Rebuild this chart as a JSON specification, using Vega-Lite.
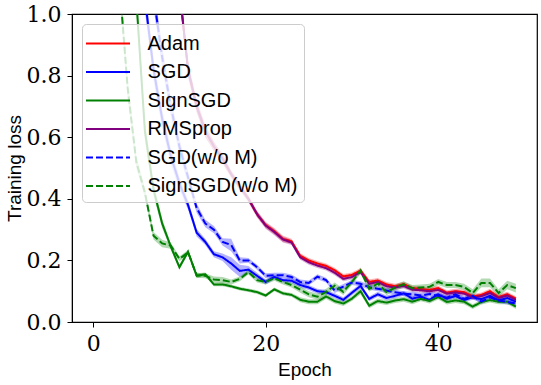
{
  "$schema": "https://vega.github.io/schema/vega-lite/v6.json",
  "width": 465,
  "height": 308,
  "autosize": {"type": "none"},
  "padding": {"left": 72, "top": 14, "right": 4, "bottom": 63},
  "background": "white",
  "config": {
    "font": "Liberation Sans",
    "view": {"stroke": "black", "strokeWidth": 1.2},
    "axis": {
      "grid": false,
      "domainColor": "black",
      "tickColor": "black",
      "tickSize": 5,
      "labelColor": "black",
      "titleFontWeight": "normal",
      "titleColor": "black"
    },
    "legend": {
      "orient": "top-left",
      "offset": 10,
      "padding": 6,
      "fillColor": "rgba(255,255,255,0.8)",
      "strokeColor": "#cccccc",
      "cornerRadius": 4,
      "labelFont": "Liberation Sans",
      "labelFontSize": 20,
      "labelColor": "black",
      "symbolType": "M-1.76,0H1.76",
      "symbolSize": 625,
      "symbolStrokeWidth": 2,
      "symbolOpacity": 1,
      "symbolOffset": 6.5,
      "labelOffset": 26,
      "rowPadding": 4.5
    }
  },
  "data": {"values": [
    {"s":"Adam","e":10,"y":1.08,"sd":0.03},{"s":"Adam","e":11,"y":0.82,"sd":0.025},{"s":"Adam","e":12,"y":0.70,"sd":0.02},{"s":"Adam","e":13,"y":0.62,"sd":0.02},{"s":"Adam","e":14,"y":0.57,"sd":0.015},{"s":"Adam","e":15,"y":0.53,"sd":0.015},{"s":"Adam","e":16,"y":0.48,"sd":0.012},{"s":"Adam","e":17,"y":0.44,"sd":0.012},{"s":"Adam","e":18,"y":0.40,"sd":0.01},{"s":"Adam","e":19,"y":0.35,"sd":0.01},{"s":"Adam","e":20,"y":0.315,"sd":0.01},{"s":"Adam","e":21,"y":0.295,"sd":0.01},{"s":"Adam","e":22,"y":0.27,"sd":0.01},{"s":"Adam","e":23,"y":0.262,"sd":0.008},{"s":"Adam","e":24,"y":0.215,"sd":0.008},{"s":"Adam","e":25,"y":0.20,"sd":0.008},{"s":"Adam","e":26,"y":0.19,"sd":0.008},{"s":"Adam","e":27,"y":0.182,"sd":0.008},{"s":"Adam","e":28,"y":0.168,"sd":0.008},{"s":"Adam","e":29,"y":0.148,"sd":0.008},{"s":"Adam","e":30,"y":0.153,"sd":0.008},{"s":"Adam","e":31,"y":0.167,"sd":0.008},{"s":"Adam","e":32,"y":0.13,"sd":0.008},{"s":"Adam","e":33,"y":0.135,"sd":0.008},{"s":"Adam","e":34,"y":0.122,"sd":0.008},{"s":"Adam","e":35,"y":0.116,"sd":0.008},{"s":"Adam","e":36,"y":0.123,"sd":0.008},{"s":"Adam","e":37,"y":0.11,"sd":0.008},{"s":"Adam","e":38,"y":0.107,"sd":0.008},{"s":"Adam","e":39,"y":0.104,"sd":0.008},{"s":"Adam","e":40,"y":0.11,"sd":0.008},{"s":"Adam","e":41,"y":0.095,"sd":0.008},{"s":"Adam","e":42,"y":0.10,"sd":0.008},{"s":"Adam","e":43,"y":0.097,"sd":0.008},{"s":"Adam","e":44,"y":0.083,"sd":0.008},{"s":"Adam","e":45,"y":0.088,"sd":0.008},{"s":"Adam","e":46,"y":0.10,"sd":0.008},{"s":"Adam","e":47,"y":0.081,"sd":0.008},{"s":"Adam","e":48,"y":0.09,"sd":0.008},{"s":"Adam","e":49,"y":0.076,"sd":0.008},

    {"s":"SGD","e":6,"y":1.05,"sd":0.04},{"s":"SGD","e":7,"y":0.82,"sd":0.035},{"s":"SGD","e":8,"y":0.66,"sd":0.03},{"s":"SGD","e":9,"y":0.54,"sd":0.025},{"s":"SGD","e":10,"y":0.45,"sd":0.02},{"s":"SGD","e":11,"y":0.38,"sd":0.015},{"s":"SGD","e":12,"y":0.29,"sd":0.012},{"s":"SGD","e":13,"y":0.26,"sd":0.01},{"s":"SGD","e":14,"y":0.22,"sd":0.01},{"s":"SGD","e":15,"y":0.21,"sd":0.012},{"s":"SGD","e":16,"y":0.19,"sd":0.02},{"s":"SGD","e":17,"y":0.166,"sd":0.02},{"s":"SGD","e":18,"y":0.17,"sd":0.012},{"s":"SGD","e":19,"y":0.15,"sd":0.01},{"s":"SGD","e":20,"y":0.13,"sd":0.008},{"s":"SGD","e":21,"y":0.146,"sd":0.008},{"s":"SGD","e":22,"y":0.136,"sd":0.008},{"s":"SGD","e":23,"y":0.134,"sd":0.008},{"s":"SGD","e":24,"y":0.12,"sd":0.008},{"s":"SGD","e":25,"y":0.112,"sd":0.008},{"s":"SGD","e":26,"y":0.10,"sd":0.008},{"s":"SGD","e":27,"y":0.097,"sd":0.008},{"s":"SGD","e":28,"y":0.085,"sd":0.008},{"s":"SGD","e":29,"y":0.072,"sd":0.008},{"s":"SGD","e":30,"y":0.095,"sd":0.008},{"s":"SGD","e":31,"y":0.117,"sd":0.008},{"s":"SGD","e":32,"y":0.075,"sd":0.008},{"s":"SGD","e":33,"y":0.09,"sd":0.008},{"s":"SGD","e":34,"y":0.078,"sd":0.008},{"s":"SGD","e":35,"y":0.085,"sd":0.008},{"s":"SGD","e":36,"y":0.093,"sd":0.008},{"s":"SGD","e":37,"y":0.076,"sd":0.008},{"s":"SGD","e":38,"y":0.082,"sd":0.008},{"s":"SGD","e":39,"y":0.072,"sd":0.008},{"s":"SGD","e":40,"y":0.09,"sd":0.008},{"s":"SGD","e":41,"y":0.076,"sd":0.008},{"s":"SGD","e":42,"y":0.084,"sd":0.008},{"s":"SGD","e":43,"y":0.072,"sd":0.008},{"s":"SGD","e":44,"y":0.08,"sd":0.008},{"s":"SGD","e":45,"y":0.074,"sd":0.008},{"s":"SGD","e":46,"y":0.085,"sd":0.008},{"s":"SGD","e":47,"y":0.07,"sd":0.008},{"s":"SGD","e":48,"y":0.078,"sd":0.008},{"s":"SGD","e":49,"y":0.066,"sd":0.008},

    {"s":"SignSGD","e":5,"y":1.05,"sd":0.04},{"s":"SignSGD","e":6,"y":0.62,"sd":0.03},{"s":"SignSGD","e":7,"y":0.43,"sd":0.02},{"s":"SignSGD","e":8,"y":0.32,"sd":0.015},{"s":"SignSGD","e":9,"y":0.245,"sd":0.01},{"s":"SignSGD","e":10,"y":0.178,"sd":0.008},{"s":"SignSGD","e":11,"y":0.228,"sd":0.008},{"s":"SignSGD","e":12,"y":0.15,"sd":0.008},{"s":"SignSGD","e":13,"y":0.155,"sd":0.006},{"s":"SignSGD","e":14,"y":0.122,"sd":0.006},{"s":"SignSGD","e":15,"y":0.122,"sd":0.006},{"s":"SignSGD","e":16,"y":0.116,"sd":0.006},{"s":"SignSGD","e":17,"y":0.108,"sd":0.006},{"s":"SignSGD","e":18,"y":0.103,"sd":0.006},{"s":"SignSGD","e":19,"y":0.097,"sd":0.006},{"s":"SignSGD","e":20,"y":0.086,"sd":0.006},{"s":"SignSGD","e":21,"y":0.106,"sd":0.006},{"s":"SignSGD","e":22,"y":0.093,"sd":0.006},{"s":"SignSGD","e":23,"y":0.088,"sd":0.006},{"s":"SignSGD","e":24,"y":0.072,"sd":0.008},{"s":"SignSGD","e":25,"y":0.066,"sd":0.008},{"s":"SignSGD","e":26,"y":0.066,"sd":0.008},{"s":"SignSGD","e":27,"y":0.083,"sd":0.008},{"s":"SignSGD","e":28,"y":0.068,"sd":0.008},{"s":"SignSGD","e":29,"y":0.06,"sd":0.008},{"s":"SignSGD","e":30,"y":0.076,"sd":0.008},{"s":"SignSGD","e":31,"y":0.10,"sd":0.01},{"s":"SignSGD","e":32,"y":0.053,"sd":0.008},{"s":"SignSGD","e":33,"y":0.068,"sd":0.008},{"s":"SignSGD","e":34,"y":0.063,"sd":0.008},{"s":"SignSGD","e":35,"y":0.07,"sd":0.008},{"s":"SignSGD","e":36,"y":0.074,"sd":0.008},{"s":"SignSGD","e":37,"y":0.066,"sd":0.008},{"s":"SignSGD","e":38,"y":0.075,"sd":0.008},{"s":"SignSGD","e":39,"y":0.068,"sd":0.008},{"s":"SignSGD","e":40,"y":0.081,"sd":0.008},{"s":"SignSGD","e":41,"y":0.065,"sd":0.008},{"s":"SignSGD","e":42,"y":0.07,"sd":0.008},{"s":"SignSGD","e":43,"y":0.066,"sd":0.008},{"s":"SignSGD","e":44,"y":0.05,"sd":0.008},{"s":"SignSGD","e":45,"y":0.065,"sd":0.008},{"s":"SignSGD","e":46,"y":0.071,"sd":0.008},{"s":"SignSGD","e":47,"y":0.066,"sd":0.008},{"s":"SignSGD","e":48,"y":0.066,"sd":0.008},{"s":"SignSGD","e":49,"y":0.05,"sd":0.008},

    {"s":"RMSprop","e":10,"y":1.08,"sd":0.03},{"s":"RMSprop","e":11,"y":0.82,"sd":0.025},{"s":"RMSprop","e":12,"y":0.70,"sd":0.02},{"s":"RMSprop","e":13,"y":0.62,"sd":0.02},{"s":"RMSprop","e":14,"y":0.57,"sd":0.015},{"s":"RMSprop","e":15,"y":0.53,"sd":0.015},{"s":"RMSprop","e":16,"y":0.48,"sd":0.012},{"s":"RMSprop","e":17,"y":0.44,"sd":0.012},{"s":"RMSprop","e":18,"y":0.40,"sd":0.01},{"s":"RMSprop","e":19,"y":0.35,"sd":0.01},{"s":"RMSprop","e":20,"y":0.313,"sd":0.01},{"s":"RMSprop","e":21,"y":0.292,"sd":0.01},{"s":"RMSprop","e":22,"y":0.268,"sd":0.01},{"s":"RMSprop","e":23,"y":0.258,"sd":0.008},{"s":"RMSprop","e":24,"y":0.21,"sd":0.008},{"s":"RMSprop","e":25,"y":0.194,"sd":0.008},{"s":"RMSprop","e":26,"y":0.183,"sd":0.008},{"s":"RMSprop","e":27,"y":0.175,"sd":0.008},{"s":"RMSprop","e":28,"y":0.16,"sd":0.008},{"s":"RMSprop","e":29,"y":0.14,"sd":0.008},{"s":"RMSprop","e":30,"y":0.146,"sd":0.008},{"s":"RMSprop","e":31,"y":0.162,"sd":0.008},{"s":"RMSprop","e":32,"y":0.124,"sd":0.008},{"s":"RMSprop","e":33,"y":0.13,"sd":0.008},{"s":"RMSprop","e":34,"y":0.116,"sd":0.008},{"s":"RMSprop","e":35,"y":0.112,"sd":0.008},{"s":"RMSprop","e":36,"y":0.117,"sd":0.008},{"s":"RMSprop","e":37,"y":0.105,"sd":0.008},{"s":"RMSprop","e":38,"y":0.103,"sd":0.008},{"s":"RMSprop","e":39,"y":0.1,"sd":0.008},{"s":"RMSprop","e":40,"y":0.104,"sd":0.008},{"s":"RMSprop","e":41,"y":0.092,"sd":0.008},{"s":"RMSprop","e":42,"y":0.096,"sd":0.008},{"s":"RMSprop","e":43,"y":0.092,"sd":0.008},{"s":"RMSprop","e":44,"y":0.08,"sd":0.008},{"s":"RMSprop","e":45,"y":0.084,"sd":0.008},{"s":"RMSprop","e":46,"y":0.094,"sd":0.008},{"s":"RMSprop","e":47,"y":0.078,"sd":0.008},{"s":"RMSprop","e":48,"y":0.086,"sd":0.008},{"s":"RMSprop","e":49,"y":0.072,"sd":0.008},

    {"s":"SGD(w/o M)","e":7,"y":1.06,"sd":0.04},{"s":"SGD(w/o M)","e":8,"y":0.86,"sd":0.035},{"s":"SGD(w/o M)","e":9,"y":0.70,"sd":0.03},{"s":"SGD(w/o M)","e":10,"y":0.57,"sd":0.025},{"s":"SGD(w/o M)","e":11,"y":0.47,"sd":0.02},{"s":"SGD(w/o M)","e":12,"y":0.37,"sd":0.015},{"s":"SGD(w/o M)","e":13,"y":0.32,"sd":0.012},{"s":"SGD(w/o M)","e":14,"y":0.30,"sd":0.012},{"s":"SGD(w/o M)","e":15,"y":0.26,"sd":0.012},{"s":"SGD(w/o M)","e":16,"y":0.25,"sd":0.02},{"s":"SGD(w/o M)","e":17,"y":0.20,"sd":0.01},{"s":"SGD(w/o M)","e":18,"y":0.20,"sd":0.008},{"s":"SGD(w/o M)","e":19,"y":0.178,"sd":0.008},{"s":"SGD(w/o M)","e":20,"y":0.15,"sd":0.008},{"s":"SGD(w/o M)","e":21,"y":0.152,"sd":0.008},{"s":"SGD(w/o M)","e":22,"y":0.152,"sd":0.008},{"s":"SGD(w/o M)","e":23,"y":0.146,"sd":0.008},{"s":"SGD(w/o M)","e":24,"y":0.13,"sd":0.008},{"s":"SGD(w/o M)","e":25,"y":0.127,"sd":0.008},{"s":"SGD(w/o M)","e":26,"y":0.147,"sd":0.008},{"s":"SGD(w/o M)","e":27,"y":0.136,"sd":0.008},{"s":"SGD(w/o M)","e":28,"y":0.102,"sd":0.008},{"s":"SGD(w/o M)","e":29,"y":0.115,"sd":0.008},{"s":"SGD(w/o M)","e":30,"y":0.128,"sd":0.008},{"s":"SGD(w/o M)","e":31,"y":0.124,"sd":0.008},{"s":"SGD(w/o M)","e":32,"y":0.113,"sd":0.008},{"s":"SGD(w/o M)","e":33,"y":0.108,"sd":0.008},{"s":"SGD(w/o M)","e":34,"y":0.102,"sd":0.008},{"s":"SGD(w/o M)","e":35,"y":0.097,"sd":0.008},{"s":"SGD(w/o M)","e":36,"y":0.092,"sd":0.008},{"s":"SGD(w/o M)","e":37,"y":0.09,"sd":0.008},{"s":"SGD(w/o M)","e":38,"y":0.086,"sd":0.008},{"s":"SGD(w/o M)","e":39,"y":0.091,"sd":0.008},{"s":"SGD(w/o M)","e":40,"y":0.085,"sd":0.008},{"s":"SGD(w/o M)","e":41,"y":0.079,"sd":0.008},{"s":"SGD(w/o M)","e":42,"y":0.09,"sd":0.008},{"s":"SGD(w/o M)","e":43,"y":0.075,"sd":0.008},{"s":"SGD(w/o M)","e":44,"y":0.085,"sd":0.008},{"s":"SGD(w/o M)","e":45,"y":0.066,"sd":0.008},{"s":"SGD(w/o M)","e":46,"y":0.08,"sd":0.008},{"s":"SGD(w/o M)","e":47,"y":0.07,"sd":0.008},{"s":"SGD(w/o M)","e":48,"y":0.065,"sd":0.008},{"s":"SGD(w/o M)","e":49,"y":0.06,"sd":0.008},

    {"s":"SignSGD(w/o M)","e":3,"y":1.12,"sd":0.04},{"s":"SignSGD(w/o M)","e":4,"y":0.76,"sd":0.03},{"s":"SignSGD(w/o M)","e":5,"y":0.52,"sd":0.02},{"s":"SignSGD(w/o M)","e":6,"y":0.42,"sd":0.015},{"s":"SignSGD(w/o M)","e":7,"y":0.28,"sd":0.012},{"s":"SignSGD(w/o M)","e":8,"y":0.255,"sd":0.012},{"s":"SignSGD(w/o M)","e":9,"y":0.248,"sd":0.01},{"s":"SignSGD(w/o M)","e":10,"y":0.205,"sd":0.008},{"s":"SignSGD(w/o M)","e":11,"y":0.226,"sd":0.008},{"s":"SignSGD(w/o M)","e":12,"y":0.152,"sd":0.008},{"s":"SignSGD(w/o M)","e":13,"y":0.15,"sd":0.008},{"s":"SignSGD(w/o M)","e":14,"y":0.138,"sd":0.01},{"s":"SignSGD(w/o M)","e":15,"y":0.136,"sd":0.01},{"s":"SignSGD(w/o M)","e":16,"y":0.13,"sd":0.008},{"s":"SignSGD(w/o M)","e":17,"y":0.14,"sd":0.008},{"s":"SignSGD(w/o M)","e":18,"y":0.162,"sd":0.008},{"s":"SignSGD(w/o M)","e":19,"y":0.136,"sd":0.008},{"s":"SignSGD(w/o M)","e":20,"y":0.13,"sd":0.008},{"s":"SignSGD(w/o M)","e":21,"y":0.142,"sd":0.008},{"s":"SignSGD(w/o M)","e":22,"y":0.13,"sd":0.008},{"s":"SignSGD(w/o M)","e":23,"y":0.12,"sd":0.008},{"s":"SignSGD(w/o M)","e":24,"y":0.105,"sd":0.01},{"s":"SignSGD(w/o M)","e":25,"y":0.09,"sd":0.01},{"s":"SignSGD(w/o M)","e":26,"y":0.082,"sd":0.01},{"s":"SignSGD(w/o M)","e":27,"y":0.098,"sd":0.01},{"s":"SignSGD(w/o M)","e":28,"y":0.118,"sd":0.01},{"s":"SignSGD(w/o M)","e":29,"y":0.098,"sd":0.01},{"s":"SignSGD(w/o M)","e":30,"y":0.13,"sd":0.01},{"s":"SignSGD(w/o M)","e":31,"y":0.167,"sd":0.01},{"s":"SignSGD(w/o M)","e":32,"y":0.108,"sd":0.01},{"s":"SignSGD(w/o M)","e":33,"y":0.125,"sd":0.01},{"s":"SignSGD(w/o M)","e":34,"y":0.097,"sd":0.01},{"s":"SignSGD(w/o M)","e":35,"y":0.112,"sd":0.01},{"s":"SignSGD(w/o M)","e":36,"y":0.122,"sd":0.01},{"s":"SignSGD(w/o M)","e":37,"y":0.11,"sd":0.01},{"s":"SignSGD(w/o M)","e":38,"y":0.112,"sd":0.01},{"s":"SignSGD(w/o M)","e":39,"y":0.114,"sd":0.01},{"s":"SignSGD(w/o M)","e":40,"y":0.13,"sd":0.01},{"s":"SignSGD(w/o M)","e":41,"y":0.12,"sd":0.01},{"s":"SignSGD(w/o M)","e":42,"y":0.12,"sd":0.01},{"s":"SignSGD(w/o M)","e":43,"y":0.114,"sd":0.01},{"s":"SignSGD(w/o M)","e":44,"y":0.094,"sd":0.012},{"s":"SignSGD(w/o M)","e":45,"y":0.127,"sd":0.014},{"s":"SignSGD(w/o M)","e":46,"y":0.127,"sd":0.014},{"s":"SignSGD(w/o M)","e":47,"y":0.094,"sd":0.012},{"s":"SignSGD(w/o M)","e":48,"y":0.12,"sd":0.014},{"s":"SignSGD(w/o M)","e":49,"y":0.11,"sd":0.014}
  ]},
  "encoding": {
    "x": {
      "field": "e", "type": "quantitative",
      "scale": {"domain": [-2.45, 51.45], "nice": false, "zero": false},
      "axis": {"values": [0, 20, 40], "title": "Epoch", "labelFont": "DejaVu Serif", "labelFontSize": 22, "titleFont": "Liberation Sans", "titleFontSize": 19, "labelPadding": 6, "titlePadding": 6}
    },
    "y": {
      "field": "y", "type": "quantitative",
      "scale": {"domain": [0, 1], "nice": false},
      "axis": {"values": [0, 0.2, 0.4, 0.6, 0.8, 1.0], "format": ".1f", "title": "Training loss", "labelFont": "DejaVu Serif", "labelFontSize": 22, "titleFont": "Liberation Sans", "titleFontSize": 19, "labelPadding": 6, "titlePadding": 2}
    },
    "color": {
      "field": "s", "type": "nominal",
      "scale": {"domain": ["Adam", "SGD", "SignSGD", "RMSprop", "SGD(w/o M)", "SignSGD(w/o M)"],
                "range": ["#ff0000", "#0000ff", "#008000", "#800080", "#0000ff", "#008000"]},
      "legend": {"title": null}
    }
  },
  "layer": [
    {
      "mark": {"type": "errorband", "clip": true, "band": {"opacity": 0.3}},
      "encoding": {
        "yError": {"field": "sd"}
      }
    },
    {
      "mark": {"type": "line", "clip": true, "strokeWidth": 2},
      "encoding": {
        "strokeDash": {
          "field": "s", "type": "nominal",
          "scale": {"domain": ["Adam", "SGD", "SignSGD", "RMSprop", "SGD(w/o M)", "SignSGD(w/o M)"],
                    "range": [[1, 0], [1, 0], [1, 0], [1, 0], [7, 3], [7, 3]]},
          "legend": {"title": null}
        }
      }
    }
  ]
}
